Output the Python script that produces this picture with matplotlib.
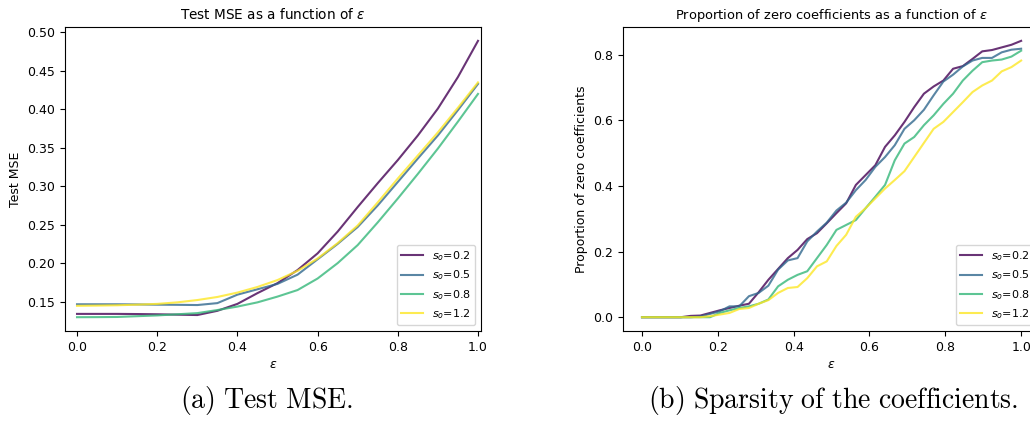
import matplotlib
matplotlib.use("Agg")
import matplotlib.pyplot as plt
import numpy as np

plt.rcParams['mathtext.fontset'] = 'dejavusans'

# test MSE curves (left panel)
eps_mse = [0.0, 0.05, 0.1, 0.15, 0.2, 0.25, 0.3, 0.35, 0.4, 0.45, 0.5,
           0.55, 0.6, 0.65, 0.7, 0.75, 0.8, 0.85, 0.9, 0.95, 1.0]
mse_02 = [0.134, 0.134, 0.134, 0.1338, 0.1335, 0.133, 0.1325, 0.138, 0.147, 0.161, 0.174,
          0.191, 0.2127, 0.241, 0.273, 0.304, 0.334, 0.366, 0.401, 0.442, 0.489]
mse_05 = [0.1465, 0.1465, 0.1465, 0.1463, 0.146, 0.1458, 0.1455, 0.148, 0.159, 0.166, 0.173,
          0.185, 0.205, 0.225, 0.247, 0.275, 0.3055, 0.336, 0.366, 0.399, 0.433]
mse_08 = [0.1297, 0.1298, 0.130, 0.131, 0.132, 0.1335, 0.135, 0.139, 0.1435, 0.149, 0.1565,
          0.165, 0.180, 0.200, 0.2235, 0.253, 0.284, 0.316, 0.349, 0.384, 0.420]
mse_12 = [0.1445, 0.1448, 0.1452, 0.146, 0.147, 0.149, 0.152, 0.156, 0.1617, 0.169, 0.178,
          0.190, 0.206, 0.226, 0.249, 0.279, 0.310, 0.340, 0.370, 0.402, 0.435]

# proportion of zero coefficients (right panel), 40 eps values in [0, 1]
eps_zero = np.linspace(0, 1, 40)
zero_02 = [0, 0, 0, 0, 0, 0.004, 0.005, 0.013, 0.021, 0.028,
           0.035, 0.041, 0.076, 0.114, 0.147, 0.180, 0.205, 0.238, 0.256, 0.286,
           0.317, 0.347, 0.403, 0.433, 0.463, 0.519, 0.554, 0.595, 0.640, 0.681,
           0.703, 0.721, 0.757, 0.765, 0.787, 0.810, 0.814, 0.822, 0.830, 0.842]
zero_05 = [0, 0, 0, 0, 0, 0, 0.002, 0.010, 0.018, 0.033,
           0.033, 0.064, 0.074, 0.096, 0.145, 0.173, 0.180, 0.231, 0.261, 0.288,
           0.325, 0.349, 0.387, 0.418, 0.458, 0.488, 0.524, 0.574, 0.600, 0.632,
           0.676, 0.718, 0.739, 0.764, 0.782, 0.790, 0.790, 0.807, 0.815, 0.818]
zero_08 = [0, 0, 0, 0, 0, 0, 0, 0, 0.013, 0.021,
           0.028, 0.033, 0.041, 0.054, 0.094, 0.114, 0.129, 0.140, 0.180, 0.220,
           0.266, 0.281, 0.296, 0.332, 0.367, 0.403, 0.478, 0.529, 0.549, 0.585,
           0.615, 0.650, 0.681, 0.721, 0.751, 0.777, 0.782, 0.785, 0.794, 0.812]
zero_12 = [0, 0, 0, 0, 0, 0, 0, 0.003, 0.008, 0.013,
           0.025, 0.028, 0.041, 0.052, 0.074, 0.089, 0.092, 0.119, 0.155, 0.170,
           0.217, 0.251, 0.306, 0.332, 0.362, 0.392, 0.418, 0.445, 0.488, 0.531,
           0.574, 0.595, 0.625, 0.655, 0.686, 0.706, 0.721, 0.749, 0.762, 0.782]

s_values = ["0.2", "0.5", "0.8", "1.2"]
colors = [plt.cm.viridis(v) for v in [0.0, 1/3, 2/3, 1.0]]

fs = 9
fig = plt.figure(figsize=(10.30, 4.29), dpi=100)

ax1 = fig.add_axes([0.0631, 0.2284, 0.4039, 0.7086])
for ys, s, c in zip([mse_02, mse_05, mse_08, mse_12], s_values, colors):
    ax1.plot(eps_mse, ys, color=c, alpha=0.8, lw=1.5, label=r"$s_o$=" + s)
ax1.set_xlim(-0.030, 1.0075)
ax1.set_title(r"Test MSE as a function of $\epsilon$", fontsize=9.8)
ax1.set_ylabel("Test MSE", fontsize=fs)
ax1.set_xlabel(r"$\epsilon$", fontsize=fs, labelpad=3)
ax1.tick_params(labelsize=fs)
ax1.legend(loc="lower right", fontsize=8)

ax2 = fig.add_axes([0.6049, 0.2284, 0.4049, 0.7086])
for ys, s, c in zip([zero_02, zero_05, zero_08, zero_12], s_values, colors):
    ax2.plot(eps_zero, ys, color=c, alpha=0.8, lw=1.5, label=r"$s_o$=" + s)
ax2.set_xlim(-0.05, 1.05)
ax2.set_title(r"Proportion of zero coefficients as a function of $\epsilon$", fontsize=9.4)
ax2.set_ylabel("Proportion of zero coefficients", fontsize=fs)
ax2.set_xlabel(r"$\epsilon$", fontsize=fs, labelpad=3)
ax2.tick_params(labelsize=fs)
ax2.legend(loc="lower right", fontsize=8)

# subfigure captions
fig.text(0.259, 0.067, r"$\mathrm{(a)\ Test\ MSE.}$", ha="center", va="center",
         fontsize=20, math_fontfamily="cm")
fig.text(0.809, 0.067, r"$\mathrm{(b)\ Sparsity\ of\ the\ coefficients.}$", ha="center",
         va="center", fontsize=20, math_fontfamily="cm")

fig.savefig("out.png", dpi=100)
